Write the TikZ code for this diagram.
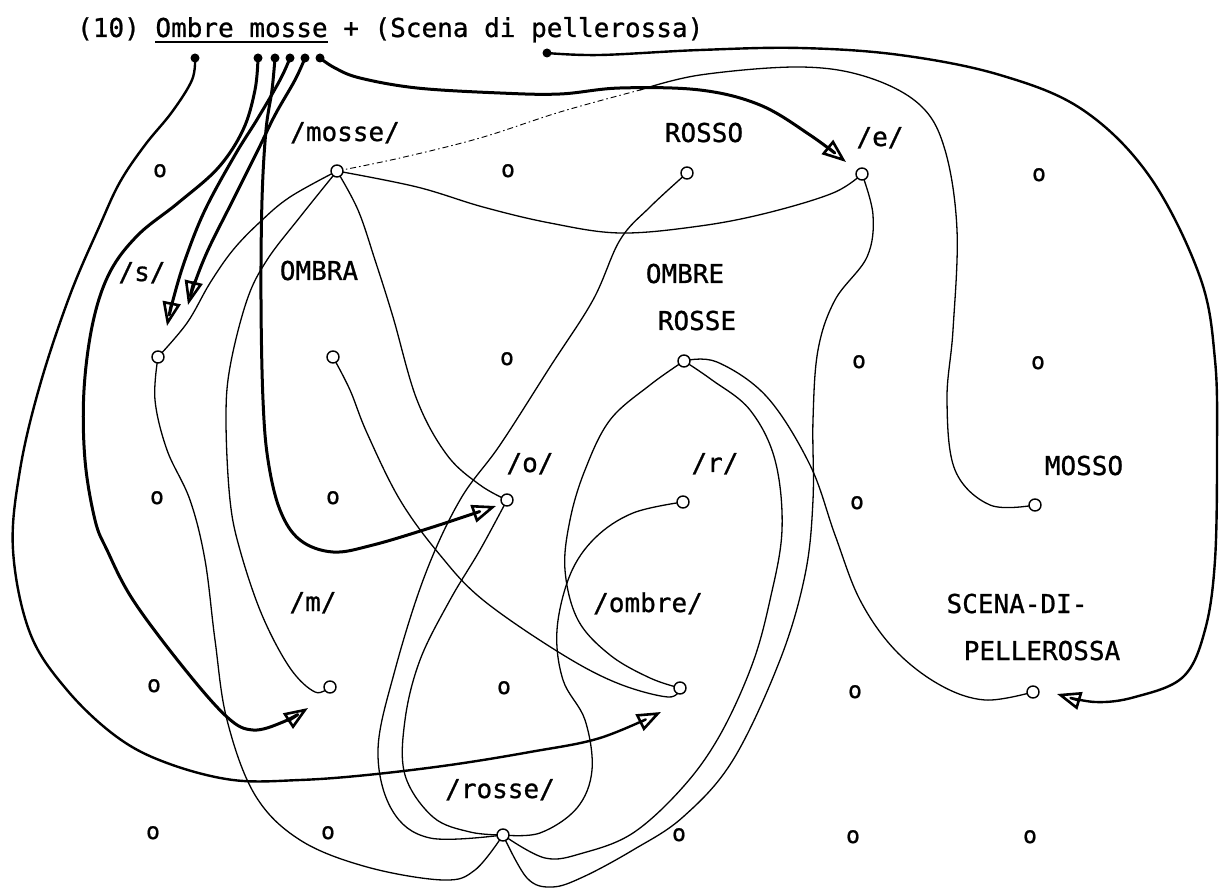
\documentclass[tikz,border=0pt]{standalone}
\usepackage{fontspec}
\newfontfamily\mono{DejaVu Sans Mono}[FakeBold=0.9]
\usetikzlibrary{arrows.meta}
\pgfdeclarelayer{bg}
\pgfsetlayers{bg,main}
\newcommand\ulword[1]{\setbox0\hbox{#1}\rlap{\rule[-6pt]{\wd0}{2.2pt}}\box0}
\tikzset{
  vtx/.style={circle, draw, fill=white, line width=1.4pt, minimum size=12pt, inner sep=0pt},
  gridpt/.style={anchor=base, inner sep=0pt, font=\mono\fontsize{23pt}{25pt}\selectfont},
  lbl/.style={anchor=base, inner sep=0pt, font=\mono\fontsize{26pt}{30pt}\selectfont},
  tdot/.style={circle, fill=black, minimum size=9pt, inner sep=0pt},
  wire/.style={line width=1.3pt, line cap=round, line join=round},
  heavy/.style={line width=3pt, line cap=round, line join=round},
  medium/.style={line width=2.4pt, line cap=round, line join=round},
  tipA/.style={-{Triangle[open,length=24pt,width=18pt,line width=2.6pt]}},
  faint/.style={line width=0.9pt, dash pattern=on 6pt off 3pt on 1.5pt off 3pt}
}
\begin{document}
\begin{tikzpicture}[x=1pt,y=-1pt]
\useasboundingbox (0,0) rectangle (1219,890);

% title
\node[lbl, anchor=base west] (title) at (77,37) {(10) \ulword{Ombre mosse}\ + (Scena di pellerossa)};
\node[tdot] (d1) at (195,58) {};
\node[tdot] (d2) at (258,58) {};
\node[tdot] (d3) at (275,58) {};
\node[tdot] (d4) at (290,58) {};
\node[tdot] (d5) at (305,58) {};
\node[tdot] (d6) at (320,58) {};
\node[tdot] (dp) at (547,53) {};

% unconnected grid points
\node[gridpt] (g11) at (160,177) {o};
\node[gridpt] (g13) at (508,177) {o};
\node[gridpt] (g16) at (1039,181) {o};
\node[gridpt] (g23) at (507,365) {o};
\node[gridpt] (g25) at (859,368) {o};
\node[gridpt] (g26) at (1038,369) {o};
\node[gridpt] (g31) at (157,504) {o};
\node[gridpt] (g32) at (333,504) {o};
\node[gridpt] (g35) at (857,509) {o};
\node[gridpt] (g41) at (154,692) {o};
\node[gridpt] (g43) at (504,694) {o};
\node[gridpt] (g45) at (855,698) {o};
\node[gridpt] (g51) at (153,839) {o};
\node[gridpt] (g52) at (328,839) {o};
\node[gridpt] (g54) at (679,841) {o};
\node[gridpt] (g55) at (853,843) {o};
\node[gridpt] (g56) at (1030,843) {o};

% connected nodes
\node[vtx] (mosse) at (337,171) {};
\node[vtx] (rosso) at (687,173) {};
\node[vtx] (ne) at (862,174) {};
\node[vtx] (ns) at (158,357) {};
\node[vtx] (ombra) at (333,357) {};
\node[vtx] (orosse) at (684,361) {};
\node[vtx] (no) at (507,500) {};
\node[vtx] (nr) at (683,502) {};
\node[vtx] (mosso) at (1035,505) {};
\node[vtx] (nm) at (330,687) {};
\node[vtx] (ombre) at (680,688) {};
\node[vtx] (scena) at (1033,692) {};
\node[vtx] (rosse) at (503,835) {};

% labels
\node[lbl] (lmosse) at (345,141) {/mosse/};
\node[lbl] (lrosso) at (704,142) {ROSSO};
\node[lbl] (le) at (880,146) {/e/};
\node[lbl] (ls) at (142,281) {/s/};
\node[lbl] (lombra) at (319,280) {OMBRA};
\node[lbl] (lombreA) at (685,283) {OMBRE};
\node[lbl] (lombreB) at (697,330) {ROSSE};
\node[lbl] (lo) at (530,472) {/o/};
\node[lbl] (lr) at (715,472) {/r/};
\node[lbl] (lmosso) at (1084,475) {MOSSO};
\node[lbl] (lm) at (313,611) {/m/};
\node[lbl] (lombre) at (648,612) {/ombre/};
\node[lbl] (lscA) at (1017,613) {SCENA-DI-};
\node[lbl] (lscB) at (1042,660) {PELLEROSSA};
\node[lbl] (lrosse) at (500,798) {/rosse/};

% arrow tip coordinates
\coordinate (tOmbre) at (661,712);
\coordinate (tM) at (308,708);
\coordinate (tO) at (496,506);
\coordinate (tSa) at (167,326);
\coordinate (tSb) at (188,305);
\coordinate (tE) at (846,162);
\coordinate (tScena) at (1057,694);
\coordinate (cmid) at (640,90);

\begin{pgfonlayer}{bg}
% thin connectors
\draw[wire] plot[smooth,tension=0.6] coordinates {(mosse) (290,197) (260,222) (233,250) (210,283) (187,323) (ns)};
\draw[wire] plot[smooth,tension=0.6] coordinates {(mosse) (300,217) (267,260) (247,300) (230,367) (226,420) (230,500) (240,550) (262,615) (290,668) (315,692) (nm)};
\draw[wire] plot[smooth,tension=0.6] coordinates {(mosse) (358,210) (375,260) (393,317) (417,400) (447,455) (480,485) (no)};
\draw[wire] plot[smooth,tension=0.6] coordinates {(mosse) (417,187) (483,207) (550,223) (620,233) (700,226) (767,213) (833,193) (ne)};
\draw[faint] plot[smooth,tension=0.6] coordinates {(mosse) (400,158) (480,138) (560,112) (cmid)};
\draw[wire] plot[smooth,tension=0.6] coordinates {(cmid) (700,75) (800,67) (867,77) (920,105) (945,150) (957,230) (953,330) (947,400) (955,470) (990,505) (mosso)};
\draw[wire] plot[smooth,tension=0.6] coordinates {(ns) (155,400) (167,450) (190,500) (205,560) (215,640) (227,720) (255,795) (300,840) (367,867) (443,880) (475,870) (rosse)};
\draw[wire] plot[smooth,tension=0.6] coordinates {(ombra) (350,390) (367,433) (400,500) (440,555) (483,600) (560,653) (617,683) (668,697) (ombre)};
\draw[wire] plot[smooth,tension=0.6] coordinates {(rosso) (650,207) (620,240) (593,300) (550,367) (500,445) (460,500) (425,575) (395,670) (378,750) (392,810) (430,838) (rosse)};
\draw[wire] plot[smooth,tension=0.6] coordinates {(no) (480,550) (450,600) (420,660) (405,720) (405,775) (433,817) (470,832) (rosse)};
\draw[wire] plot[smooth,tension=0.6] coordinates {(orosse) (650,385) (610,420) (585,470) (570,520) (565,570) (578,620) (610,655) (650,678) (ombre)};
\draw[wire] plot[smooth,tension=0.6] coordinates {(nr) (633,513) (595,538) (570,575) (557,630) (563,680) (585,720) (592,770) (577,808) (540,833) (rosse)};
\draw[wire] plot[smooth,tension=0.6] coordinates {(orosse) (712,380) (750,410) (775,460) (782,530) (770,600) (752,665) (720,735) (683,787) (633,833) (583,853) (545,858) (rosse)};
\draw[wire] plot[smooth,tension=0.6] coordinates {(orosse) (717,362) (767,397) (810,465) (835,535) (860,600) (895,650) (940,685) (985,700) (scena)};
\draw[wire] plot[smooth,tension=0.6] coordinates {(ne) (873,215) (867,257) (835,300) (818,350) (813,420) (813,500) (805,575) (780,660) (733,760) (683,817) (633,850) (583,877) (552,887) (527,878) (rosse)};

% heavy connectors from the title
\draw[medium,tipA] plot[smooth,tension=0.6] coordinates {(d1) (192,80) (172,112) (145,145) (120,182) (100,225) (70,295) (40,385) (20,470) (13,550) (30,633) (67,690) (117,737) (167,763) (233,780) (300,780) (367,775) (450,765) (530,752) (600,738) (tOmbre)};
\draw[heavy,tipA] plot[smooth,tension=0.6] coordinates {(d2) (255,90) (243,130) (218,168) (178,203) (138,235) (110,272) (93,322) (84,390) (85,460) (95,520) (107,550) (133,600) (183,667) (227,717) (253,730) (283,722) (tM)};
\draw[heavy,tipA] plot[smooth,tension=0.6] coordinates {(d3) (272,90) (266,130) (262,200) (261,300) (263,400) (268,460) (280,510) (300,540) (333,552) (373,545) (433,527) (tO)};
\draw[heavy,tipA] plot[smooth,tension=0.6] coordinates {(d4) (280,80) (258,118) (235,155) (205,210) (185,260) (173,300) (tSa)};
\draw[heavy,tipA] plot[smooth,tension=0.6] coordinates {(d5) (295,80) (275,115) (258,150) (233,200) (208,250) (194,285) (tSb)};
\draw[heavy,tipA] plot[smooth,tension=0.6] coordinates {(d6) (335,68) (360,78) (417,88) (500,93) (560,94) (620,88) (700,90) (760,105) (810,135) (tE)};
\draw[medium,tipA] plot[smooth,tension=0.6] coordinates {(dp) (600,55) (700,50) (800,48) (900,55) (1000,75) (1083,110) (1150,177) (1200,277) (1215,360) (1217,450) (1215,560) (1205,630) (1183,677) (1135,697) (1095,702) (tScena)};
\end{pgfonlayer}
\end{tikzpicture}
\end{document}
